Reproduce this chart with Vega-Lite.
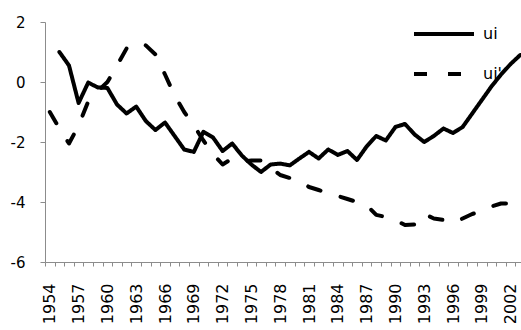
{
  "$schema": "https://vega.github.io/schema/vega-lite/v6.json",
  "width": 476,
  "height": 240,
  "autosize": {"type": "none"},
  "padding": {"left": 45, "top": 22, "right": 0, "bottom": 68},
  "background": "white",
  "config": {"view": {"stroke": null}},
  "data": {"values": [
    {"year": 1955, "series": "ui", "value": 1.0},
    {"year": 1956, "series": "ui", "value": 0.55},
    {"year": 1957, "series": "ui", "value": -0.7},
    {"year": 1958, "series": "ui", "value": -0.02},
    {"year": 1959, "series": "ui", "value": -0.18},
    {"year": 1960, "series": "ui", "value": -0.2},
    {"year": 1961, "series": "ui", "value": -0.75},
    {"year": 1962, "series": "ui", "value": -1.05},
    {"year": 1963, "series": "ui", "value": -0.82},
    {"year": 1964, "series": "ui", "value": -1.3},
    {"year": 1965, "series": "ui", "value": -1.6},
    {"year": 1966, "series": "ui", "value": -1.35},
    {"year": 1967, "series": "ui", "value": -1.8},
    {"year": 1968, "series": "ui", "value": -2.25},
    {"year": 1969, "series": "ui", "value": -2.33},
    {"year": 1970, "series": "ui", "value": -1.66},
    {"year": 1971, "series": "ui", "value": -1.85},
    {"year": 1972, "series": "ui", "value": -2.3},
    {"year": 1973, "series": "ui", "value": -2.05},
    {"year": 1974, "series": "ui", "value": -2.45},
    {"year": 1975, "series": "ui", "value": -2.75},
    {"year": 1976, "series": "ui", "value": -3.0},
    {"year": 1977, "series": "ui", "value": -2.75},
    {"year": 1978, "series": "ui", "value": -2.72},
    {"year": 1979, "series": "ui", "value": -2.78},
    {"year": 1980, "series": "ui", "value": -2.55},
    {"year": 1981, "series": "ui", "value": -2.33},
    {"year": 1982, "series": "ui", "value": -2.55},
    {"year": 1983, "series": "ui", "value": -2.25},
    {"year": 1984, "series": "ui", "value": -2.43},
    {"year": 1985, "series": "ui", "value": -2.3},
    {"year": 1986, "series": "ui", "value": -2.6},
    {"year": 1987, "series": "ui", "value": -2.15},
    {"year": 1988, "series": "ui", "value": -1.8},
    {"year": 1989, "series": "ui", "value": -1.95},
    {"year": 1990, "series": "ui", "value": -1.5},
    {"year": 1991, "series": "ui", "value": -1.4},
    {"year": 1992, "series": "ui", "value": -1.75},
    {"year": 1993, "series": "ui", "value": -2.0},
    {"year": 1994, "series": "ui", "value": -1.8},
    {"year": 1995, "series": "ui", "value": -1.55},
    {"year": 1996, "series": "ui", "value": -1.7},
    {"year": 1997, "series": "ui", "value": -1.5},
    {"year": 1998, "series": "ui", "value": -1.05},
    {"year": 1999, "series": "ui", "value": -0.6},
    {"year": 2000, "series": "ui", "value": -0.15},
    {"year": 2001, "series": "ui", "value": 0.25},
    {"year": 2002, "series": "ui", "value": 0.6},
    {"year": 2003, "series": "ui", "value": 0.9},
    {"year": 1954, "series": "ui'", "value": -1.0},
    {"year": 1955, "series": "ui'", "value": -1.55},
    {"year": 1956, "series": "ui'", "value": -2.05},
    {"year": 1957, "series": "ui'", "value": -1.45},
    {"year": 1958, "series": "ui'", "value": -0.65},
    {"year": 1959, "series": "ui'", "value": -0.3},
    {"year": 1960, "series": "ui'", "value": 0.0},
    {"year": 1961, "series": "ui'", "value": 0.55},
    {"year": 1962, "series": "ui'", "value": 1.12},
    {"year": 1963, "series": "ui'", "value": 1.3},
    {"year": 1964, "series": "ui'", "value": 1.22},
    {"year": 1965, "series": "ui'", "value": 0.92},
    {"year": 1966, "series": "ui'", "value": 0.25},
    {"year": 1967, "series": "ui'", "value": -0.45},
    {"year": 1968, "series": "ui'", "value": -1.0},
    {"year": 1969, "series": "ui'", "value": -1.45},
    {"year": 1970, "series": "ui'", "value": -1.95},
    {"year": 1971, "series": "ui'", "value": -2.4},
    {"year": 1972, "series": "ui'", "value": -2.75},
    {"year": 1973, "series": "ui'", "value": -2.55},
    {"year": 1974, "series": "ui'", "value": -2.65},
    {"year": 1975, "series": "ui'", "value": -2.62},
    {"year": 1976, "series": "ui'", "value": -2.62},
    {"year": 1977, "series": "ui'", "value": -2.85},
    {"year": 1978, "series": "ui'", "value": -3.1},
    {"year": 1979, "series": "ui'", "value": -3.2},
    {"year": 1980, "series": "ui'", "value": -3.3},
    {"year": 1981, "series": "ui'", "value": -3.5},
    {"year": 1982, "series": "ui'", "value": -3.6},
    {"year": 1983, "series": "ui'", "value": -3.7},
    {"year": 1984, "series": "ui'", "value": -3.8},
    {"year": 1985, "series": "ui'", "value": -3.9},
    {"year": 1986, "series": "ui'", "value": -4.0},
    {"year": 1987, "series": "ui'", "value": -4.1},
    {"year": 1988, "series": "ui'", "value": -4.43},
    {"year": 1989, "series": "ui'", "value": -4.5},
    {"year": 1990, "series": "ui'", "value": -4.6},
    {"year": 1991, "series": "ui'", "value": -4.77},
    {"year": 1992, "series": "ui'", "value": -4.75},
    {"year": 1993, "series": "ui'", "value": -4.4},
    {"year": 1994, "series": "ui'", "value": -4.55},
    {"year": 1995, "series": "ui'", "value": -4.6},
    {"year": 1996, "series": "ui'", "value": -4.7},
    {"year": 1997, "series": "ui'", "value": -4.55},
    {"year": 1998, "series": "ui'", "value": -4.4},
    {"year": 1999, "series": "ui'", "value": -4.3},
    {"year": 2000, "series": "ui'", "value": -4.15},
    {"year": 2001, "series": "ui'", "value": -4.05},
    {"year": 2002, "series": "ui'", "value": -4.05},
    {"year": 2003, "series": "ui'", "value": -3.8}
  ]},
  "mark": {"type": "line", "strokeWidth": 4, "strokeCap": "round", "strokeJoin": "round", "clip": true},
  "encoding": {
    "x": {
      "field": "year", "type": "quantitative",
      "scale": {"domain": [1953.5, 2003.08], "nice": false, "zero": false},
      "axis": {
        "title": null, "grid": false,
        "values": [1953.5, 1954, 1954.5, 1955.5, 1956.5, 1957, 1957.5, 1958.5, 1959.5, 1960, 1960.5, 1961.5, 1962.5, 1963, 1963.5, 1964.5, 1965.5, 1966, 1966.5, 1967.5, 1968.5, 1969, 1969.5, 1970.5, 1971.5, 1972, 1972.5, 1973.5, 1974.5, 1975, 1975.5, 1976.5, 1977.5, 1978, 1978.5, 1979.5, 1980.5, 1981, 1981.5, 1982.5, 1983.5, 1984, 1984.5, 1985.5, 1986.5, 1987, 1987.5, 1988.5, 1989.5, 1990, 1990.5, 1991.5, 1992.5, 1993, 1993.5, 1994.5, 1995.5, 1996, 1996.5, 1997.5, 1998.5, 1999, 1999.5, 2000.5, 2001.5, 2002, 2002.5],
        "labelExpr": "datum.value % 1 === 0 ? '' + datum.value : ''",
        "labelOverlap": false,
        "labelAngle": -90, "labelAlign": "right", "labelBaseline": "middle",
        "labelFont": "DejaVu Sans", "labelFontSize": 16, "labelColor": "#000000",
        "labelPadding": 17,
        "tickSize": 4, "tickColor": "#8c8c8c",
        "tickOpacity": {"expr": "datum.value % 1 === 0 ? 0 : 1"},
        "domainColor": "#8c8c8c", "domainWidth": 1
      }
    },
    "y": {
      "field": "value", "type": "quantitative",
      "scale": {"domain": [-6, 2], "nice": false, "zero": false},
      "axis": {
        "title": null, "grid": false,
        "values": [-6, -4, -2, 0, 2],
        "labelExpr": "'' + datum.value",
        "labelFont": "DejaVu Sans", "labelFontSize": 15, "labelColor": "#000000",
        "labelPadding": 15,
        "tickSize": 5, "tickColor": "#8c8c8c",
        "domainColor": "#8c8c8c", "domainWidth": 1
      }
    },
    "stroke": {
      "field": "series", "type": "nominal",
      "scale": {"domain": ["ui", "ui'"], "range": ["#000000", "#000000"]},
      "legend": {
        "title": null, "orient": "none", "legendX": 367, "legendY": -20,
        "symbolType": "stroke", "symbolSize": 3600, "symbolStrokeWidth": 4,
        "labelFont": "DejaVu Sans", "labelFontSize": 16, "labelColor": "#000000",
        "labelOffset": 7, "rowPadding": -23, "padding": 0
      }
    },
    "strokeDash": {
      "field": "series", "type": "nominal",
      "scale": {"domain": ["ui", "ui'"], "range": [[1, 0], [13, 21]]},
      "legend": {
        "title": null, "orient": "none", "legendX": 367, "legendY": -20,
        "symbolType": "stroke", "symbolSize": 3600, "symbolStrokeWidth": 4,
        "labelFont": "DejaVu Sans", "labelFontSize": 16, "labelColor": "#000000",
        "labelOffset": 7, "rowPadding": -23, "padding": 0
      }
    }
  }
}
